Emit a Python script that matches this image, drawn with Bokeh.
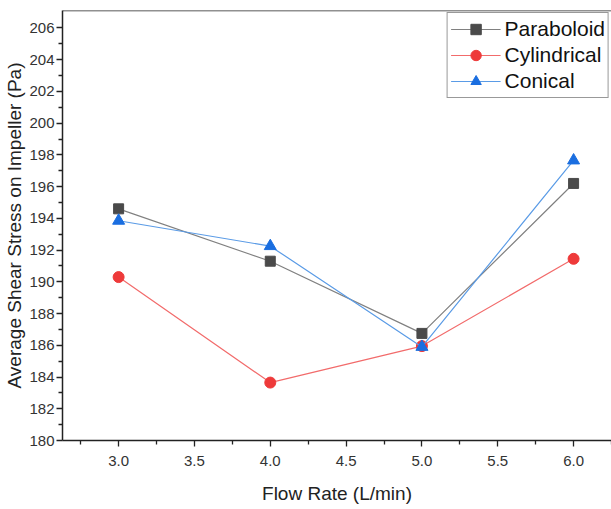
from bokeh.plotting import figure
from bokeh.models import Range1d, Legend, Span, FixedTicker
from bokeh.embed import file_html
from bokeh.resources import INLINE

# Flow rate (L/min) and average shear stress on the impeller (Pa)
flow_rate = [3.0, 4.0, 5.0, 6.0]
paraboloid = [194.6, 191.3, 186.75, 196.2]
cylindrical = [190.3, 183.65, 185.95, 191.45]
conical = [193.85, 192.25, 185.9, 197.65]

x_ticks = [3.0, 3.5, 4.0, 4.5, 5.0, 5.5, 6.0]
y_ticks = list(range(180, 207, 2))

FONT = "Liberation Sans"
Y_TOP = 207.1

p = figure(width=611, height=509, output_backend="svg", toolbar_location=None,
           x_range=Range1d(2.63, 6.25), y_range=Range1d(180, Y_TOP),
           min_border_left=62, min_border_right=0, min_border_top=10,
           min_border_bottom=69)
p.outline_line_color = None
p.xgrid.visible = False
p.ygrid.visible = False
p.background_fill_color = "white"
p.border_fill_color = "white"

# top edge of the frame
p.add_layout(Span(location=Y_TOP, dimension="width", line_color="#222222",
                  line_width=1.5))

series = [
    ("Paraboloid", paraboloid, "#808080", "#4a4a4a", "square", 10),
    ("Cylindrical", cylindrical, "#f26b6b", "#ee3a3a", "circle", 11),
    ("Conical", conical, "#5a9be6", "#1a6ee0", "triangle", 12),
]
items = []
for name, ys, lc, mc, marker, size in series:
    ln = p.line(flow_rate, ys, line_color=lc, line_width=1.2)
    sc = p.scatter(flow_rate, ys, marker=marker, size=size, fill_color=mc,
                   line_color=mc)
    items.append((name, [ln, sc]))

legend = Legend(items=items, location="top_right")
legend.label_text_font = FONT
legend.label_text_font_size = "21px"
legend.label_text_color = "#111111"
legend.border_line_color = "#333333"
legend.border_line_width = 1.2
legend.margin = 2
legend.padding = 3
legend.spacing = 0
legend.glyph_width = 50
legend.label_standoff = 4
legend.label_height = 26
legend.glyph_height = 26
p.add_layout(legend)

for ax in (p.xaxis[0], p.yaxis[0]):
    ax.axis_line_color = "#222222"
    ax.axis_line_width = 1.5
    ax.major_tick_line_color = "#222222"
    ax.minor_tick_line_color = "#222222"
    ax.major_tick_line_width = 1.3
    ax.minor_tick_line_width = 1.3
    ax.major_tick_out = 6
    ax.major_tick_in = 0
    ax.minor_tick_out = 4
    ax.minor_tick_in = 0
    ax.major_label_text_font = FONT
    ax.major_label_text_font_size = "15px"
    ax.major_label_text_color = "#333333"
    ax.axis_label_text_font = FONT
    ax.axis_label_text_font_size = "19px"
    ax.axis_label_text_font_style = "normal"
    ax.axis_label_text_color = "#222222"

p.xaxis.ticker = FixedTicker(ticks=x_ticks,
                             minor_ticks=[2.75, 3.25, 3.75, 4.25, 4.75, 5.25, 5.75, 6.25])
p.xaxis.major_label_overrides = {t: f"{t:.1f}" for t in x_ticks}
p.xaxis.axis_label = "Flow Rate (L/min)"
p.xaxis.major_label_standoff = 9
p.xaxis.axis_label_standoff = 14

p.yaxis.ticker = FixedTicker(ticks=y_ticks, minor_ticks=list(range(181, 207, 2)))
p.yaxis.axis_label = "Average Shear Stress on Impeller (Pa)"
p.yaxis.major_label_standoff = 2
p.yaxis.axis_label_standoff = 1

open("out.html", "w").write(file_html(p, INLINE))
